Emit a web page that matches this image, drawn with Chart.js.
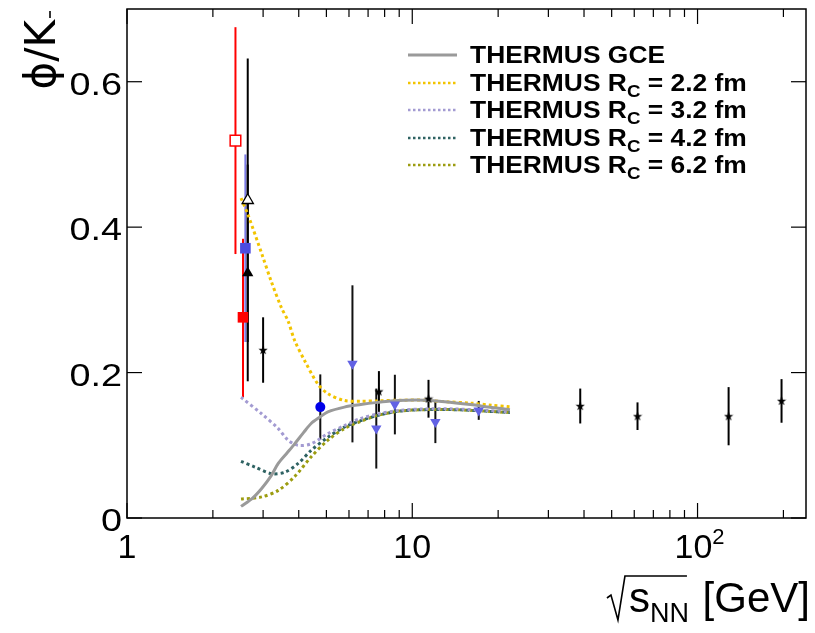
<!DOCTYPE html>
<html>
<head>
<meta charset="utf-8">
<script src="https://cdn.jsdelivr.net/npm/chart.js@4.4.0/dist/chart.umd.min.js"></script>
<style>
  html, body { margin: 0; padding: 0; background: #fff; }
  #wrap { width: 815px; height: 633px; }
</style>
</head>
<body>
<div id="wrap"><canvas id="phi-chart" width="815" height="633"></canvas></div>
<script>
// ---- axis ranges and ticks ----
const xRange = [1, 240];
const yRange = [0, 0.7];
const xMajorTicks = [1, 10, 100];
const xTickLabels = ['1', '10', '10^2'];
const xMinorTicks = [2, 3, 4, 5, 6, 7, 8, 9, 20, 30, 40, 50, 60, 70, 80, 90, 200];
const yTicks = [0, 0.2, 0.4, 0.6];
const yTickLabels = ['0', '0.2', '0.4', '0.6'];

// ---- THERMUS curves ----
const gceX = [2.51, 2.75, 2.97, 3.2, 3.39, 3.65, 3.87, 4.15, 4.42, 4.75, 5.06, 5.78, 6.6, 7.55, 8.4, 9.5, 11, 13, 16, 19, 22];
const gceY = [0.016, 0.027, 0.041, 0.058, 0.075, 0.090, 0.102, 0.117, 0.130, 0.139, 0.146, 0.1525, 0.156, 0.159, 0.161, 0.162, 0.162, 0.160, 0.156, 0.152, 0.149];

const rc22X = [2.51, 2.65, 2.97, 3.2, 3.48, 3.67, 3.87, 4.2, 4.66, 5.06, 5.78, 6.6, 7.55, 9, 11, 13, 16, 19, 22];
const rc22Y = [0.440, 0.418, 0.363, 0.326, 0.289, 0.271, 0.244, 0.216, 0.1845, 0.171, 0.1616, 0.1607, 0.161, 0.162, 0.162, 0.160, 0.158, 0.155, 0.153];

const rc32X = [2.51, 2.97, 3.39, 3.67, 3.98, 4.42, 5.06, 5.78, 6.6, 7.55, 9, 11, 14, 18, 22];
const rc32Y = [0.166, 0.143, 0.123, 0.107, 0.100, 0.102, 0.116, 0.127, 0.137, 0.143, 0.148, 0.150, 0.150, 0.148, 0.146];

const rc42X = [2.51, 2.81, 3.21, 3.58, 3.98, 4.42, 5.06, 5.78, 6.6, 7.55, 9, 11, 14, 18, 22];
const rc42Y = [0.078, 0.070, 0.061, 0.063, 0.075, 0.093, 0.111, 0.125, 0.134, 0.141, 0.147, 0.149, 0.149, 0.147, 0.145];

const rc62X = [2.51, 2.97, 3.39, 3.87, 4.42, 5.06, 5.78, 6.6, 7.55, 9, 11, 14, 18, 22];
const rc62Y = [0.026, 0.029, 0.038, 0.057, 0.084, 0.107, 0.123, 0.133, 0.141, 0.147, 0.149, 0.149, 0.147, 0.145];

// ---- measured points ----
const redOpenX = [2.40];
const redOpenY = [0.519];
const redOpenErr = [0.156];

const redFullX = [2.55];
const redFullY = [0.276];
const redFullErrHi = [0.108];
const redFullErrLo = [0.110];

const blueSqX = [2.60];
const blueSqY = [0.371];
const blueSqErr = [0.129];

const openTriX = [2.65];
const openTriY = [0.437];
const openTriErr = [0.195];

const fullTriX = [2.65];
const fullTriY = [0.337];
const fullTriErr = [0.149];

const starX = [3.0, 7.64, 11.4, 38.8, 61.6, 128.5, 197];
const starY = [0.231, 0.174, 0.164, 0.154, 0.140, 0.140, 0.161];
const starErr = [0.045, 0.028, 0.026, 0.024, 0.019, 0.040, 0.030];

const blueTriX = [6.17, 7.48, 8.69, 12.05, 17.1];
const blueTriY = [0.212, 0.123, 0.156, 0.132, 0.148];
const blueTriErr = [0.108, 0.055, 0.041, 0.029, 0.013];

const blueDotX = [4.76];
const blueDotY = [0.1525];
const blueDotErr = [0.045];

const legendLabels = ['THERMUS GCE', 'THERMUS R_{C} = 2.2 fm', 'THERMUS R_{C} = 3.2 fm', 'THERMUS R_{C} = 4.2 fm', 'THERMUS R_{C} = 6.2 fm'];
const curveColors = ['#9a9a9a', '#f2c400', '#a39bd2', '#2e6262', '#9c9c10'];

const toPts = (xs, ys) => xs.map((x, i) => ({x: x, y: ys[i]}));

// small filled star marker
function makeStar() {
    const c = document.createElement('canvas');
    c.width = 10; c.height = 10;
    const g = c.getContext('2d');
    g.fillStyle = '#000';
    g.beginPath();
    for (let k = 0; k < 10; k++) {
        const r = k % 2 === 0 ? 4.8 : 2.0;
        const a = -Math.PI / 2 + k * Math.PI / 5;
        const px = 5 + r * Math.cos(a), py = 5.3 + r * Math.sin(a);
        if (k === 0) g.moveTo(px, py); else g.lineTo(px, py);
    }
    g.closePath();
    g.fill();
    return c;
}
const starImg = makeStar();

function curve(xs, ys, color, dashed) {
    return {
        type: 'line',
        data: toPts(xs, ys),
        borderColor: color,
        borderWidth: 3,
        borderDash: dashed ? [3, 3] : [],
        pointRadius: 0,
        tension: 0.3,
        fill: false,
        order: 2,
    };
}

function points(xs, ys, errHi, errLo, style, opts) {
    return Object.assign({
        type: 'scatter',
        data: toPts(xs, ys),
        pointStyle: style,
        errHi: errHi,
        errLo: errLo,
        order: 0,
    }, opts);
}

// error bars drawn under the markers
const errorBars = {
    id: 'errorBars',
    beforeDatasetsDraw(chart) {
        const ctx = chart.ctx, xs = chart.scales.x, ys = chart.scales.y;
        chart.data.datasets.forEach(ds => {
            if (!ds.errHi) return;
            ctx.save();
            ctx.strokeStyle = ds.errColor;
            ctx.lineWidth = 2;
            ds.data.forEach((p, j) => {
                const px = xs.getPixelForValue(p.x);
                ctx.beginPath();
                ctx.moveTo(px, ys.getPixelForValue(p.y + ds.errHi[j]));
                ctx.lineTo(px, ys.getPixelForValue(p.y - ds.errLo[j]));
                ctx.stroke();
            });
            ctx.restore();
        });
    }
};

// ROOT-like frame, inside ticks, labels, titles and legend
const frame = {
    id: 'frame',
    afterDraw(chart) {
        const ctx = chart.ctx, a = chart.chartArea;
        const xs = chart.scales.x, ys = chart.scales.y;
        ctx.save();
        ctx.strokeStyle = '#000';
        ctx.lineWidth = 1.5;
        ctx.strokeRect(a.left, a.top, a.right - a.left, a.bottom - a.top);

        ctx.lineWidth = 1.2;
        const tick = (x1, y1, x2, y2) => { ctx.beginPath(); ctx.moveTo(x1, y1); ctx.lineTo(x2, y2); ctx.stroke(); };
        xMajorTicks.forEach(v => {
            const px = xs.getPixelForValue(v);
            tick(px, a.bottom, px, a.bottom - 15);
            tick(px, a.top, px, a.top + 15);
        });
        xMinorTicks.forEach(v => {
            const px = xs.getPixelForValue(v);
            tick(px, a.bottom, px, a.bottom - 8);
            tick(px, a.top, px, a.top + 8);
        });
        yTicks.forEach(v => {
            const py = ys.getPixelForValue(v);
            tick(a.left, py, a.left + 15, py);
            tick(a.right, py, a.right - 15, py);
        });

        ctx.fillStyle = '#000';
        // x tick labels
        xMajorTicks.forEach((v, i) => {
            const px = xs.getPixelForValue(v);
            const parts = xTickLabels[i].split('^');
            ctx.font = '34px "Liberation Sans", Arial, sans-serif';
            const w0 = ctx.measureText(parts[0]).width;
            let w1 = 0;
            if (parts[1]) { ctx.font = '22px "Liberation Sans", Arial, sans-serif'; w1 = ctx.measureText(parts[1]).width; }
            const left = px - (w0 + w1) / 2 + (parts[1] ? 2 : 0);
            ctx.textAlign = 'left';
            ctx.textBaseline = 'alphabetic';
            ctx.font = '34px "Liberation Sans", Arial, sans-serif';
            ctx.fillText(parts[0], left, 558);
            if (parts[1]) {
                ctx.font = '22px "Liberation Sans", Arial, sans-serif';
                ctx.fillText(parts[1], left + w0, 544);
            }
        });
        // y tick labels
        yTicks.forEach((v, i) => {
            const py = ys.getPixelForValue(v);
            ctx.save();
            ctx.translate(122, py + 13);
            ctx.scale(1.22, 1);
            ctx.font = '31px "Liberation Sans", Arial, sans-serif';
            ctx.textAlign = 'right';
            ctx.textBaseline = 'alphabetic';
            ctx.fillText(yTickLabels[i], 0, 0);
            ctx.restore();
        });

        // y title: phi/K^-
        ctx.save();
        ctx.translate(55, 20);
        ctx.rotate(-Math.PI / 2);
        ctx.font = '42px "DejaVu Sans", "Liberation Sans", sans-serif';
        ctx.textAlign = 'right';
        ctx.textBaseline = 'alphabetic';
        ctx.fillText('\u03d5/K', 0, 0);
        ctx.lineWidth = 1.6;
        tick(2, -5, 9, -5);
        ctx.restore();

        // x title: sqrt(s_NN) [GeV]
        const base = 612;
        ctx.textBaseline = 'alphabetic';
        ctx.textAlign = 'left';
        ctx.font = '42px "Liberation Sans", Arial, sans-serif';
        const wUnit = ctx.measureText(' [GeV]').width;
        const wS = ctx.measureText('s').width;
        ctx.font = '27px "Liberation Sans", Arial, sans-serif';
        const wNN = ctx.measureText('NN').width;
        const xEnd = 810;
        const xUnit = xEnd - wUnit;
        const xNN = xUnit - wNN - 2;
        const xS = xNN - wS;
        ctx.fillText('NN', xNN, base + 10);
        ctx.font = '42px "Liberation Sans", Arial, sans-serif';
        ctx.fillText('s', xS, base);
        ctx.fillText(' [GeV]', xUnit, base);
        ctx.lineWidth = 1.6;
        ctx.beginPath();
        ctx.moveTo(xS - 22, base - 14);
        ctx.lineTo(xS - 18, base - 17);
        ctx.lineTo(xS - 11, base + 8);
        ctx.lineTo(xS - 4, base - 36);
        ctx.lineTo(xUnit - 4, base - 36);
        ctx.stroke();

        // legend
        const rowY = [55, 83, 110, 138, 165];
        legendLabels.forEach((lab, i) => {
            const y = rowY[i];
            ctx.save();
            ctx.strokeStyle = curveColors[i];
            if (i === 0) { ctx.lineWidth = 3; ctx.setLineDash([]); }
            else { ctx.lineWidth = 2.5; ctx.setLineDash([2.5, 2.5]); }
            tick(408, y, 457, y);
            ctx.restore();

            ctx.save();
            ctx.translate(470, y + 8);
            ctx.scale(1.1, 1);
            ctx.fillStyle = '#000';
            ctx.textAlign = 'left';
            ctx.textBaseline = 'alphabetic';
            const m = lab.match(/^(.*)_\{(.*)\}(.*)$/);
            ctx.font = 'bold 24px "Liberation Sans", Arial, sans-serif';
            if (!m) {
                ctx.fillText(lab, 0, 0);
            } else {
                ctx.fillText(m[1], 0, 0);
                let x = ctx.measureText(m[1]).width;
                ctx.font = 'bold 17px "Liberation Sans", Arial, sans-serif';
                ctx.fillText(m[2], x, 6);
                x += ctx.measureText(m[2]).width;
                ctx.font = 'bold 24px "Liberation Sans", Arial, sans-serif';
                ctx.fillText(m[3], x, 0);
            }
            ctx.restore();
        });
        ctx.restore();
    }
};

const ctx = document.getElementById('phi-chart').getContext('2d');
const phiChart = new Chart(ctx, {
    data: {
        datasets: [
            points(redOpenX, redOpenY, redOpenErr, redOpenErr, 'rect',
                {pointRadius: 7.5, pointBackgroundColor: '#fff', pointBorderColor: '#ff0000', pointBorderWidth: 1.5, errColor: '#ff0000'}),
            points(redFullX, redFullY, redFullErrHi, redFullErrLo, 'rect',
                {pointRadius: 7.5, pointBackgroundColor: '#ff0000', pointBorderColor: '#ff0000', pointBorderWidth: 0, errColor: '#ff0000'}),
            points(blueSqX, blueSqY, blueSqErr, blueSqErr, 'rect',
                {pointRadius: 7.5, pointBackgroundColor: '#4c4ce0', pointBorderColor: '#4c4ce0', pointBorderWidth: 0, errColor: '#7b7be6'}),
            points(openTriX, openTriY, openTriErr, openTriErr, 'triangle',
                {pointRadius: 6.5, pointBackgroundColor: '#fff', pointBorderColor: '#000', pointBorderWidth: 1.3, errColor: '#000'}),
            points(fullTriX, fullTriY, fullTriErr, fullTriErr, 'triangle',
                {pointRadius: 6.5, pointBackgroundColor: '#000', pointBorderColor: '#000', pointBorderWidth: 0, errColor: '#000'}),
            points(starX, starY, starErr, starErr, starImg,
                {pointRadius: 5, errColor: '#000'}),
            points(blueTriX, blueTriY, blueTriErr, blueTriErr, 'triangle',
                {pointRadius: 6, rotation: 180, pointBackgroundColor: '#6262e4', pointBorderColor: '#6262e4', pointBorderWidth: 0, errColor: '#111'}),
            points(blueDotX, blueDotY, blueDotErr, blueDotErr, 'circle',
                {pointRadius: 5, pointBackgroundColor: '#0000e8', pointBorderColor: '#0000e8', pointBorderWidth: 0, errColor: '#111'}),
            curve(gceX, gceY, curveColors[0], false),
            curve(rc22X, rc22Y, curveColors[1], true),
            curve(rc32X, rc32Y, curveColors[2], true),
            curve(rc42X, rc42Y, curveColors[3], true),
            curve(rc62X, rc62Y, curveColors[4], true),
        ]
    },
    options: {
        responsive: false,
        animation: false,
        devicePixelRatio: 1,
        layout: { padding: { left: 127, right: 3, top: 7, bottom: 115 } },
        plugins: { legend: { display: false }, tooltip: { enabled: false } },
        scales: {
            x: { type: 'logarithmic', min: xRange[0], max: xRange[1], display: false },
            y: { type: 'linear', min: yRange[0], max: yRange[1], display: false },
        }
    },
    plugins: [errorBars, frame]
});
</script>
</body>
</html>
